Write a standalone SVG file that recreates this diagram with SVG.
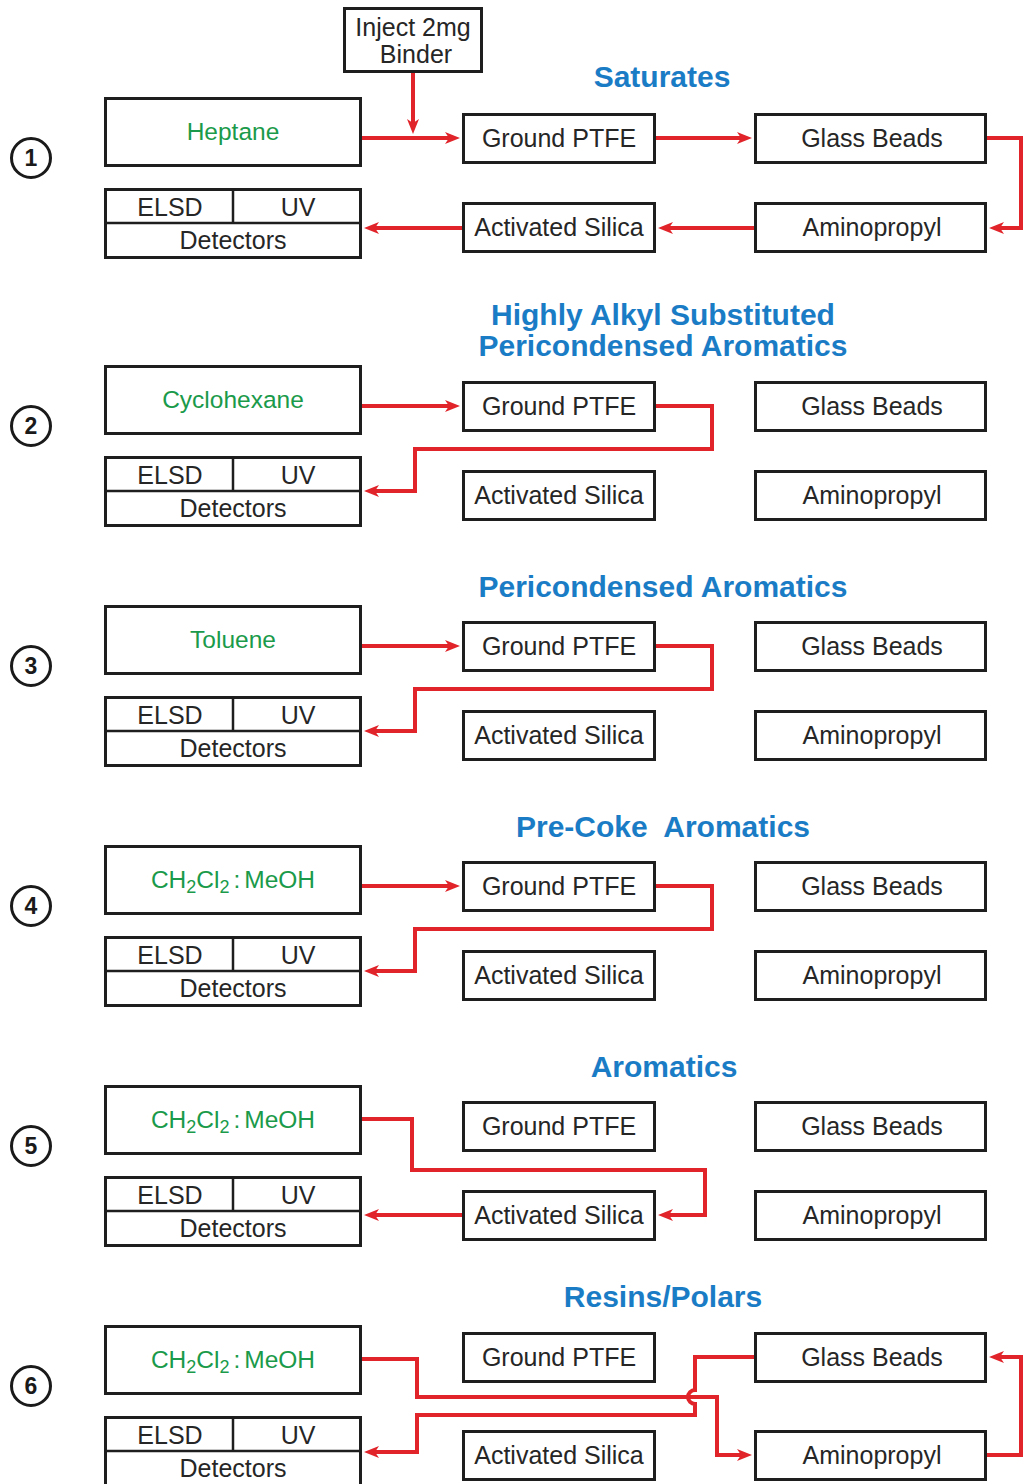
<svg xmlns="http://www.w3.org/2000/svg" width="1023" height="1484" viewBox="0 0 1023 1484">
<style>
.box{fill:#fff;stroke:#1e1e1e;stroke-width:3}
.div{stroke:#1e1e1e;stroke-width:2.5;fill:none}
.t{font-family:"Liberation Sans",Arial,sans-serif;font-size:25px;fill:#262626;text-anchor:middle}
.g{font-family:"Liberation Sans",Arial,sans-serif;font-size:24.5px;fill:#1a9a4a;text-anchor:middle}
.h{font-family:"Liberation Sans",Arial,sans-serif;font-size:30px;font-weight:bold;fill:#1b7cc6;text-anchor:middle}
.c{fill:#fff;stroke:#1a1a1a;stroke-width:3}
.n{font-family:"Liberation Sans",Arial,sans-serif;font-size:23px;font-weight:bold;fill:#1a1a1a;text-anchor:middle}
.w{fill:none;stroke:#e0242a;stroke-width:4;stroke-linejoin:miter}
.a{marker-end:url(#ah)}
.sub{font-size:18px}
</style>
<defs>
<marker id="ah" markerUnits="userSpaceOnUse" markerWidth="16" markerHeight="12" refX="9" refY="6" orient="auto">
<path d="M0,0 L15,6 L0,12 L4,6 z" fill="#e0242a"/>
</marker>
</defs>

<g id="titles">
<text class="h" x="662" y="87">Saturates</text>
<text class="h" x="663" y="325">Highly Alkyl Substituted</text>
<text class="h" x="663" y="356">Pericondensed Aromatics</text>
<text class="h" x="663" y="597">Pericondensed Aromatics</text>
<text class="h" x="663" y="837">Pre-Coke&#160; Aromatics</text>
<text class="h" x="664" y="1077">Aromatics</text>
<text class="h" x="663" y="1307">Resins/Polars</text>
</g>

<g id="inject">
<rect class="box" x="344.5" y="8.5" width="137" height="63"/>
<text class="t" x="413" y="36">Inject 2mg</text>
<text class="t" x="416" y="63">Binder</text>
</g>

<!-- Section 1 -->
<g id="s1-num"><circle class="c" cx="31" cy="158" r="19.5"/><text class="n" x="31" y="166">1</text></g>
<g id="s1-solvent"><rect class="box" x="105.5" y="98.5" width="255" height="67"/><text class="g" x="233" y="140">Heptane</text></g>
<g id="s1-det"><rect class="box" x="105.5" y="189.5" width="255" height="68"/><line class="div" x1="105" y1="223" x2="361" y2="223"/><line class="div" x1="233" y1="189" x2="233" y2="223"/><text class="t" x="170" y="216">ELSD</text><text class="t" x="298" y="216">UV</text><text class="t" x="233" y="249">Detectors</text></g>
<g id="s1-ptfe"><rect class="box" x="463.5" y="114.5" width="191" height="48"/><text class="t" x="559" y="147">Ground PTFE</text></g>
<g id="s1-glass"><rect class="box" x="755.5" y="114.5" width="230" height="48"/><text class="t" x="872" y="147">Glass Beads</text></g>
<g id="s1-silica"><rect class="box" x="463.5" y="203.5" width="191" height="48"/><text class="t" x="559" y="236">Activated Silica</text></g>
<g id="s1-amino"><rect class="box" x="755.5" y="203.5" width="230" height="48"/><text class="t" x="872" y="236">Aminopropyl</text></g>

<!-- Section 2 -->
<g id="s2-num"><circle class="c" cx="31" cy="426" r="19.5"/><text class="n" x="31" y="434">2</text></g>
<g id="s2-solvent"><rect class="box" x="105.5" y="366.5" width="255" height="67"/><text class="g" x="233" y="408">Cyclohexane</text></g>
<g id="s2-det"><rect class="box" x="105.5" y="457.5" width="255" height="68"/><line class="div" x1="105" y1="491" x2="361" y2="491"/><line class="div" x1="233" y1="457" x2="233" y2="491"/><text class="t" x="170" y="484">ELSD</text><text class="t" x="298" y="484">UV</text><text class="t" x="233" y="517">Detectors</text></g>
<g id="s2-ptfe"><rect class="box" x="463.5" y="382.5" width="191" height="48"/><text class="t" x="559" y="415">Ground PTFE</text></g>
<g id="s2-glass"><rect class="box" x="755.5" y="382.5" width="230" height="48"/><text class="t" x="872" y="415">Glass Beads</text></g>
<g id="s2-silica"><rect class="box" x="463.5" y="471.5" width="191" height="48"/><text class="t" x="559" y="504">Activated Silica</text></g>
<g id="s2-amino"><rect class="box" x="755.5" y="471.5" width="230" height="48"/><text class="t" x="872" y="504">Aminopropyl</text></g>

<!-- Section 3 -->
<g id="s3-num"><circle class="c" cx="31" cy="666" r="19.5"/><text class="n" x="31" y="674">3</text></g>
<g id="s3-solvent"><rect class="box" x="105.5" y="606.5" width="255" height="67"/><text class="g" x="233" y="648">Toluene</text></g>
<g id="s3-det"><rect class="box" x="105.5" y="697.5" width="255" height="68"/><line class="div" x1="105" y1="731" x2="361" y2="731"/><line class="div" x1="233" y1="697" x2="233" y2="731"/><text class="t" x="170" y="724">ELSD</text><text class="t" x="298" y="724">UV</text><text class="t" x="233" y="757">Detectors</text></g>
<g id="s3-ptfe"><rect class="box" x="463.5" y="622.5" width="191" height="48"/><text class="t" x="559" y="655">Ground PTFE</text></g>
<g id="s3-glass"><rect class="box" x="755.5" y="622.5" width="230" height="48"/><text class="t" x="872" y="655">Glass Beads</text></g>
<g id="s3-silica"><rect class="box" x="463.5" y="711.5" width="191" height="48"/><text class="t" x="559" y="744">Activated Silica</text></g>
<g id="s3-amino"><rect class="box" x="755.5" y="711.5" width="230" height="48"/><text class="t" x="872" y="744">Aminopropyl</text></g>

<!-- Section 4 -->
<g id="s4-num"><circle class="c" cx="31" cy="906" r="19.5"/><text class="n" x="31" y="914">4</text></g>
<g id="s4-solvent"><rect class="box" x="105.5" y="846.5" width="255" height="67"/><text class="g" x="233" y="888">CH<tspan class="sub" dy="5">2</tspan><tspan dy="-5">Cl</tspan><tspan class="sub" dy="5">2</tspan><tspan dx="4" dy="-5">:</tspan><tspan dx="4">MeOH</tspan></text></g>
<g id="s4-det"><rect class="box" x="105.5" y="937.5" width="255" height="68"/><line class="div" x1="105" y1="971" x2="361" y2="971"/><line class="div" x1="233" y1="937" x2="233" y2="971"/><text class="t" x="170" y="964">ELSD</text><text class="t" x="298" y="964">UV</text><text class="t" x="233" y="997">Detectors</text></g>
<g id="s4-ptfe"><rect class="box" x="463.5" y="862.5" width="191" height="48"/><text class="t" x="559" y="895">Ground PTFE</text></g>
<g id="s4-glass"><rect class="box" x="755.5" y="862.5" width="230" height="48"/><text class="t" x="872" y="895">Glass Beads</text></g>
<g id="s4-silica"><rect class="box" x="463.5" y="951.5" width="191" height="48"/><text class="t" x="559" y="984">Activated Silica</text></g>
<g id="s4-amino"><rect class="box" x="755.5" y="951.5" width="230" height="48"/><text class="t" x="872" y="984">Aminopropyl</text></g>

<!-- Section 5 -->
<g id="s5-num"><circle class="c" cx="31" cy="1146" r="19.5"/><text class="n" x="31" y="1154">5</text></g>
<g id="s5-solvent"><rect class="box" x="105.5" y="1086.5" width="255" height="67"/><text class="g" x="233" y="1128">CH<tspan class="sub" dy="5">2</tspan><tspan dy="-5">Cl</tspan><tspan class="sub" dy="5">2</tspan><tspan dx="4" dy="-5">:</tspan><tspan dx="4">MeOH</tspan></text></g>
<g id="s5-det"><rect class="box" x="105.5" y="1177.5" width="255" height="68"/><line class="div" x1="105" y1="1211" x2="361" y2="1211"/><line class="div" x1="233" y1="1177" x2="233" y2="1211"/><text class="t" x="170" y="1204">ELSD</text><text class="t" x="298" y="1204">UV</text><text class="t" x="233" y="1237">Detectors</text></g>
<g id="s5-ptfe"><rect class="box" x="463.5" y="1102.5" width="191" height="48"/><text class="t" x="559" y="1135">Ground PTFE</text></g>
<g id="s5-glass"><rect class="box" x="755.5" y="1102.5" width="230" height="48"/><text class="t" x="872" y="1135">Glass Beads</text></g>
<g id="s5-silica"><rect class="box" x="463.5" y="1191.5" width="191" height="48"/><text class="t" x="559" y="1224">Activated Silica</text></g>
<g id="s5-amino"><rect class="box" x="755.5" y="1191.5" width="230" height="48"/><text class="t" x="872" y="1224">Aminopropyl</text></g>

<!-- Section 6 -->
<g id="s6-num"><circle class="c" cx="31" cy="1386" r="19.5"/><text class="n" x="31" y="1394">6</text></g>
<g id="s6-solvent"><rect class="box" x="105.5" y="1326.5" width="255" height="67"/><text class="g" x="233" y="1368">CH<tspan class="sub" dy="5">2</tspan><tspan dy="-5">Cl</tspan><tspan class="sub" dy="5">2</tspan><tspan dx="4" dy="-5">:</tspan><tspan dx="4">MeOH</tspan></text></g>
<g id="s6-det"><rect class="box" x="105.5" y="1417.5" width="255" height="68"/><line class="div" x1="105" y1="1451" x2="361" y2="1451"/><line class="div" x1="233" y1="1417" x2="233" y2="1451"/><text class="t" x="170" y="1444">ELSD</text><text class="t" x="298" y="1444">UV</text><text class="t" x="233" y="1477">Detectors</text></g>
<g id="s6-ptfe"><rect class="box" x="463.5" y="1333.5" width="191" height="48"/><text class="t" x="559" y="1366">Ground PTFE</text></g>
<g id="s6-glass"><rect class="box" x="755.5" y="1333.5" width="230" height="48"/><text class="t" x="872" y="1366">Glass Beads</text></g>
<g id="s6-silica"><rect class="box" x="463.5" y="1431.5" width="191" height="48"/><text class="t" x="559" y="1464">Activated Silica</text></g>
<g id="s6-amino"><rect class="box" x="755.5" y="1431.5" width="230" height="48"/><text class="t" x="872" y="1464">Aminopropyl</text></g>

<g id="connectors">
<!-- section 1 -->
<path class="w a" d="M362,138 H454"/>
<path class="w a" d="M413,73 V128"/>
<path class="w a" d="M656,138 H746"/>
<path class="w a" d="M987,138 H1021 V228 H995"/>
<path class="w a" d="M754,228 H664"/>
<path class="w a" d="M462,228 H370"/>
<!-- section 2 -->
<path class="w a" d="M362,406 H454"/>
<path class="w a" d="M656,406 H712 V449 H415 V491 H370"/>
<!-- section 3 -->
<path class="w a" d="M362,646 H454"/>
<path class="w a" d="M656,646 H712 V689 H415 V731 H370"/>
<!-- section 4 -->
<path class="w a" d="M362,886 H454"/>
<path class="w a" d="M656,886 H712 V929 H415 V971 H370"/>
<!-- section 5 -->
<path class="w a" d="M362,1119 H412 V1170 H705 V1215 H664"/>
<path class="w a" d="M462,1215 H370"/>
<!-- section 6 -->
<path class="w a" d="M362,1359 H417 V1397 H717 V1455 H746"/>
<path class="w a" d="M987,1455 H1021 V1357 H995"/>
<path class="w a" d="M754,1357 H695 V1390 a7,7 0 0 0 0,14 V1415 H417 V1452 H370"/>
</g>
</svg>
